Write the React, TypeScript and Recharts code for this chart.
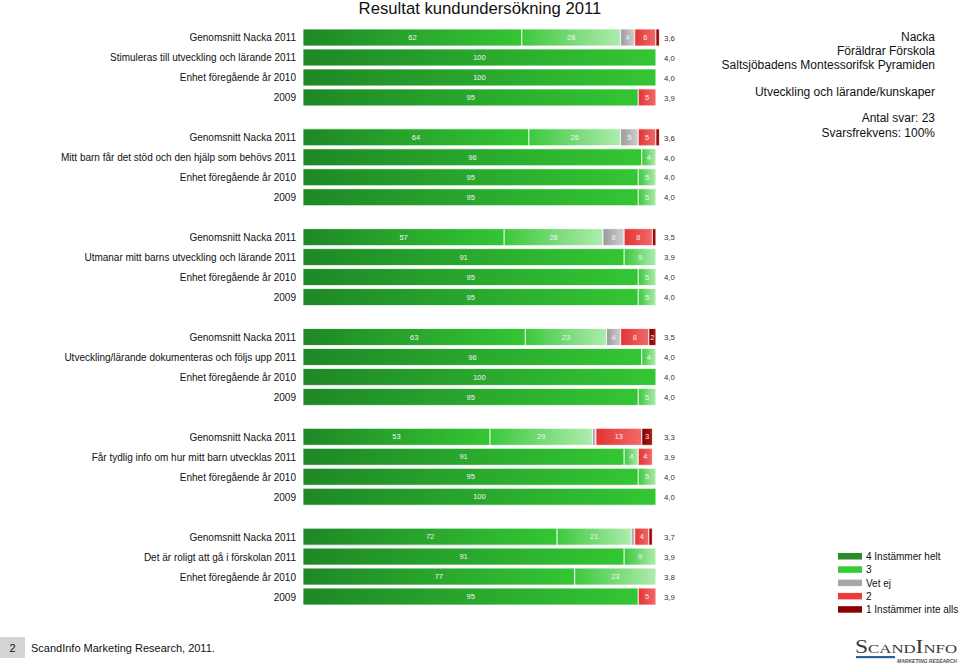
import { Bar, BarChart, LabelList, XAxis, YAxis } from "recharts";

const groupTitles = [
  "Stimuleras till utveckling och lärande  2011",
  "Mitt barn får det stöd och den hjälp som behövs 2011",
  "Utmanar mitt barns utveckling och lärande 2011",
  "Utveckling/lärande dokumenteras och följs upp 2011",
  "Får tydlig info om hur mitt barn utvecklas 2011",
  "Det är roligt att gå i förskolan 2011",
];

const rowLabels = groupTitles.flatMap((t) => ["Genomsnitt Nacka 2011", t, "Enhet föregående år 2010", "2009"]);

// percent shares per row, 4 rows per question
const share4 = [62, 100, 100, 95, 64, 96, 95, 95, 57, 91, 95, 95, 63, 96, 100, 95, 53, 91, 95, 100, 72, 91, 77, 95];
const share3 = [28, 0, 0, 0, 26, 4, 5, 5, 28, 9, 5, 5, 23, 4, 0, 5, 29, 4, 5, 0, 21, 9, 23, 0];
const shareVetEj = [4, 0, 0, 0, 5, 0, 0, 0, 6, 0, 0, 0, 4, 0, 0, 0, 1, 0, 0, 0, 1, 0, 0, 0];
const share2 = [6, 0, 0, 5, 5, 0, 0, 0, 8, 0, 0, 0, 8, 0, 0, 0, 13, 4, 0, 0, 4, 0, 0, 5];
const share1 = [1, 0, 0, 0, 1, 0, 0, 0, 1, 0, 0, 0, 2, 0, 0, 0, 3, 0, 0, 0, 1, 0, 0, 0];
const averages = [
  "3,6", "4,0", "4,0", "3,9", "3,6", "4,0", "4,0", "4,0", "3,5", "3,9", "4,0", "4,0",
  "3,5", "4,0", "4,0", "4,0", "3,3", "3,9", "4,0", "4,0", "3,7", "3,9", "3,8", "3,9",
];

const series = [
  { key: "a4", name: "4 Instämmer helt", from: "#1e8826", to: "#34c634", swatch: "#2a8a2a" },
  { key: "a3", name: "3", from: "#3cc83c", to: "#aeecae", swatch: "#33cc33" },
  { key: "vet", name: "Vet ej", from: "#9a9a9a", to: "#cfcfcf", swatch: "#a8a8a8" },
  { key: "a2", name: "2", from: "#e43434", to: "#f26a6a", swatch: "#ee3b3b" },
  { key: "a1", name: "1 Instämmer inte alls", from: "#820000", to: "#b01818", swatch: "#8b0000" },
];

const data: any[] = [];
rowLabels.forEach((name, i) => {
  data.push({
    name,
    a4: share4[i],
    a3: share3[i],
    vet: shareVetEj[i],
    a2: share2[i],
    a1: share1[i],
    avg: averages[i],
  });
  if (i % 4 === 3 && i < rowLabels.length - 1) data.push({ name: "", avg: "" });
});

const font = "'Liberation Sans', Arial, sans-serif";

const SegmentLabel = (props: any) => {
  const { x, y, width, height, value } = props;
  if (!value || value <= 1) return null;
  return (
    <text
      x={x + width / 2}
      y={y + height / 2}
      dy="0.35em"
      textAnchor="middle"
      fontSize={7.5}
      fontFamily={font}
      fill="#f2f2f2"
    >
      {value}
    </text>
  );
};

const NameTick = ({ x, y, payload }: any) => (
  <text x={x} y={y} dy="0.35em" textAnchor="end" fontSize={10} fill="#111" fontFamily={font}>
    {payload.value}
  </text>
);

const AvgTick = ({ x, y, payload }: any) => (
  <text x={x} y={y} dy="0.35em" textAnchor="start" fontSize={7.8} fill="#333" fontFamily={font}>
    {payload.value}
  </text>
);

export default function App() {
  return (
    <div style={{ position: "absolute", left: 0, top: 0, width: 960, height: 663, background: "#fff", fontFamily: font }}>
      <BarChart
        width={960}
        height={663}
        data={data}
        layout="vertical"
        margin={{ top: 28, bottom: 56, left: 0, right: 257 }}
        barSize={17}
      >
        <defs>
          {series.map((s) => (
            <linearGradient key={s.key} id={"grad-" + s.key} x1="0" y1="0" x2="1" y2="0">
              <stop offset="0%" stopColor={s.from} />
              <stop offset="100%" stopColor={s.to} />
            </linearGradient>
          ))}
        </defs>
        <XAxis type="number" domain={[0, 102]} hide />
        <YAxis
          type="category"
          dataKey="name"
          width={303}
          axisLine={false}
          tickLine={false}
          tickSize={0}
          tickMargin={7}
          interval={0}
          tick={NameTick}
        />
        <YAxis
          yAxisId="avg"
          type="category"
          dataKey="avg"
          orientation="right"
          width={40}
          axisLine={false}
          tickLine={false}
          tickSize={0}
          tickMargin={1}
          interval={0}
          tick={AvgTick}
        />
        {series.map((s) => (
          <Bar
            key={s.key}
            dataKey={s.key}
            name={s.name}
            stackId="s"
            fill={`url(#grad-${s.key})`}
            stroke="#fff"
            strokeWidth={0.8}
            isAnimationActive={false}
          >
            <LabelList dataKey={s.key} content={SegmentLabel} />
          </Bar>
        ))}
      </BarChart>

      <svg width={960} height={663} style={{ position: "absolute", left: 0, top: 0, pointerEvents: "none" }}>
        <text x={480} y={14} textAnchor="middle" fontSize={16.7} fill="#111" fontFamily={font}>
          Resultat kundundersökning 2011
        </text>

        <g fontSize={12} fill="#111" fontFamily={font} textAnchor="end">
          <text x={935} y={41}>Nacka</text>
          <text x={935} y={55}>Föräldrar Förskola</text>
          <text x={935} y={69}>Saltsjöbadens Montessorifsk Pyramiden</text>
          <text x={935} y={96}>Utveckling och lärande/kunskaper</text>
          <text x={935} y={122}>Antal svar: 23</text>
          <text x={935} y={137}>Svarsfrekvens: 100%</text>
        </g>

        <g fontSize={10} fill="#111" fontFamily={font}>
          {series.map((s, i) => (
            <g key={s.key}>
              <rect x={838} y={553 + i * 13.3} width={24} height={6.5} fill={s.swatch} />
              <text x={866} y={560 + i * 13.3}>{s.name}</text>
            </g>
          ))}
        </g>

        <rect x={0} y={637} width={25} height={21} fill="#d4d4d4" />
        <text x={12.5} y={652} textAnchor="middle" fontSize={11} fill="#111" fontFamily={font}>2</text>
        <text x={31} y={652} fontSize={11} fill="#111" fontFamily={font}>ScandInfo Marketing Research, 2011.</text>

        <text
          x={855}
          y={653}
          fill="#3a3a3a"
          fontFamily="'Liberation Serif', 'DejaVu Serif', serif"
          textLength={102}
          lengthAdjust="spacingAndGlyphs"
        >
          <tspan fontSize={19}>S</tspan>
          <tspan fontSize={13.5}>CAND</tspan>
          <tspan fontSize={19}>I</tspan>
          <tspan fontSize={13.5}>NFO</tspan>
        </text>
        <rect x={856} y={656} width={39} height={2.2} fill="#2b5f9e" />
        <text
          x={897}
          y={662.5}
          fontSize={4.8}
          fontStyle="italic"
          fontWeight="bold"
          fill="#555"
          fontFamily={font}
          textLength={60}
          lengthAdjust="spacingAndGlyphs"
        >
          MARKETING RESEARCH
        </text>
      </svg>
    </div>
  );
}
